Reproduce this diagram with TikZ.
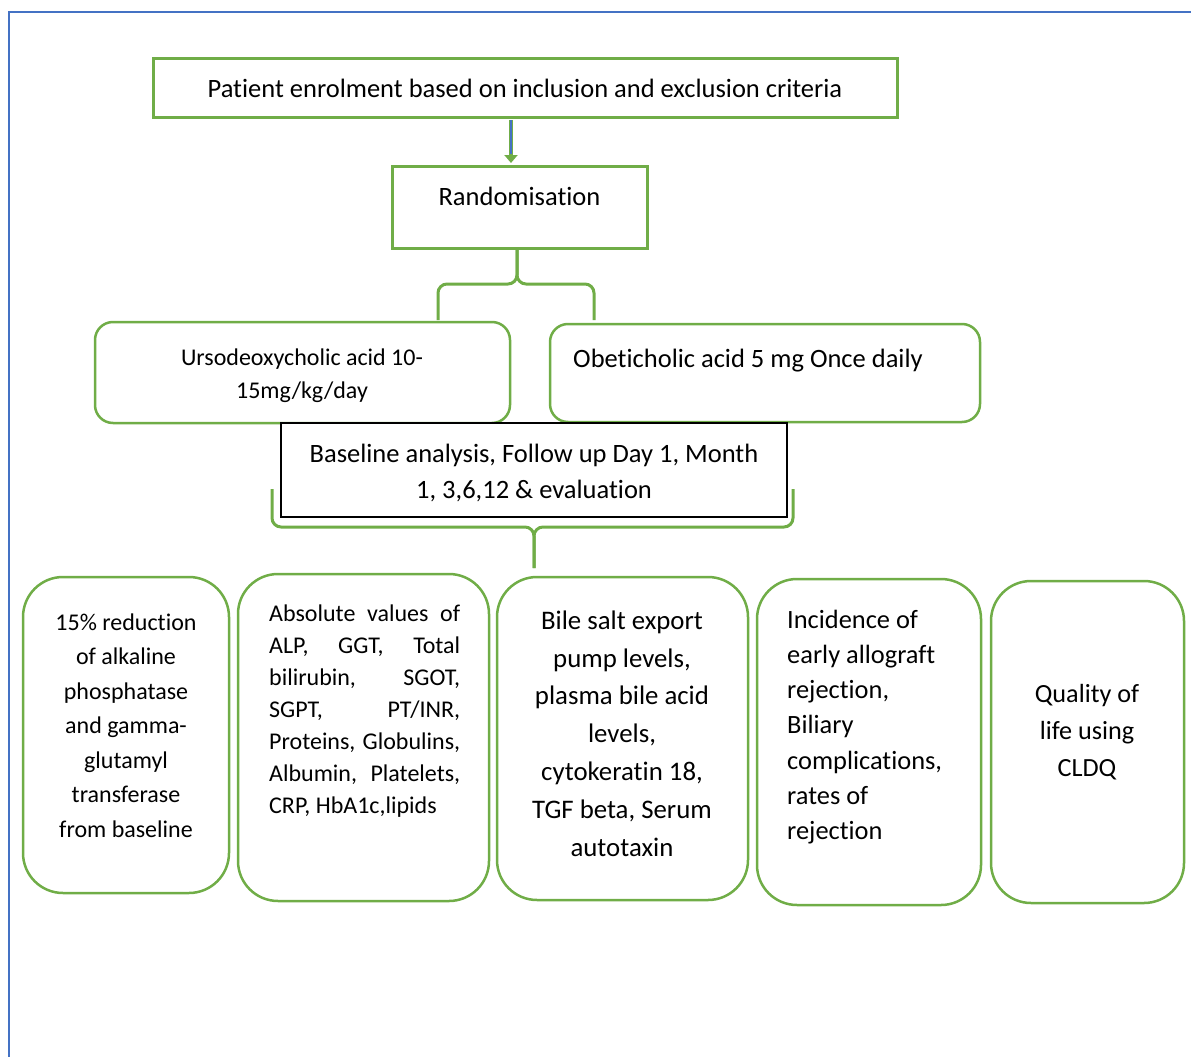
\documentclass[tikz,border=0pt]{standalone}
\usepackage{fontspec}
\setmainfont{Carlito}[Ligatures=NoCommon]
\usetikzlibrary{arrows.meta,calc}
\definecolor{ogreen}{HTML}{70AD47}
\definecolor{oblue}{HTML}{4472C4}
\begin{document}
\begin{tikzpicture}[x=1pt,y=-1pt,
  sqbox/.style={draw=ogreen, line width=3pt, inner sep=0pt, fill=white},
  rbox/.style={draw=ogreen, line width=2.5pt, inner sep=0pt, rounded corners=18pt, fill=white},
  bigbox/.style={draw=ogreen, line width=2.5pt, inner sep=0pt, rounded corners=40pt},
  blkbox/.style={draw=black, line width=1.5pt, inner sep=0pt, fill=white},
  lbl/.style={inner sep=0pt, text=black},
  brace/.style={draw=ogreen, line width=3pt, rounded corners=9pt},
  fs/.style 2 args={font=\fontsize{#1}{#2}\selectfont}
]
\useasboundingbox (0,0) rectangle (1191,1057);
% frame
\draw[oblue, line width=2pt] (9,1057) -- (9,12) -- (1191,12);

% top box
\node[sqbox, minimum width=744pt, minimum height=58pt, fs={26.5}{30}] (top) at (525,88) {Patient enrolment based on inclusion and exclusion criteria};
% randomisation
\node[sqbox, minimum width=255pt, minimum height=82pt] (rand) at (519.5,207) {};
\node[lbl, fs={26.5}{30}] (randt) at (519.5,196) {Randomisation};
% arrow
\draw[ogreen, line width=4pt, -{Triangle[length=8pt,width=13pt]}] ($(top.south)+(-14,1.5)$) -- ($(rand.north)+(-8.5,-1.5)$);
\draw[oblue, line width=1.6pt] ($(top.south)+(-14,1.5)$) -- ($(rand.north)+(-8.5,-11)$);

% upper brace
\coordinate (ubl) at (438,320);
\coordinate (ubr) at (594,320);
\coordinate (ubm) at (517,284);
\draw[brace] (ubl) -- (ubl |- ubm) -- (ubm) -- ($(rand.south)+(-2.5,0)$);
\draw[brace] (ubr) -- (ubr |- ubm) -- (ubm) -- ($(rand.south)+(-2.5,0)$);

% treatment boxes
\node[rbox, minimum width=415pt, minimum height=101pt] (urso) at (302.5,372.5) {};
\node[lbl, align=center, fs={24}{33}] (ursot) at (302,375.5) {Ursodeoxycholic acid 10-\\15mg/kg/day};
\node[rbox, minimum width=430pt, minimum height=98pt] (obet) at (765,373) {};
\node[lbl, anchor=west, fs={26.5}{30}] (obett) at (573,361) {Obeticholic acid 5 mg Once daily};

% baseline box
\node[blkbox, minimum width=506pt, minimum height=94pt] (base) at (534,470) {};
\node[lbl, align=center, fs={26.5}{36}] (baset) at (534,473) {Baseline analysis, Follow up Day 1, Month\\1, 3,6,12 \& evaluation};

% lower brace
\coordinate (lbl) at (272,489);
\coordinate (lbr) at (793,489);
\coordinate (lbm) at (534,527);
\coordinate (lbt) at (534,568);
\draw[brace] (lbl) -- (lbl |- lbm) -- (lbm) -- (lbt);
\draw[brace] (lbr) -- (lbr |- lbm) -- (lbm) -- (lbt);

% outcome boxes
\node[bigbox, minimum width=206pt, minimum height=316pt] (b1) at (126,735) {};
\node[lbl, align=center, fs={24}{34.5}] (b1t) at (126,725.5) {15\% reduction\\of alkaline\\phosphatase\\and gamma-\\glutamyl\\transferase\\from baseline};

\node[bigbox, minimum width=251pt, minimum height=327pt] (b2) at (363.5,737.5) {};
\node[lbl, anchor=west, text width=191pt, align=flush left, fs={24}{32}] (b2t) at (269,711.5) {Absolute\hfill values\hfill of\\ALP,\hfill GGT,\hfill Total\\bilirubin,\hfill SGOT,\\SGPT,\hfill PT/INR,\\Proteins,\hfill Globulins,\\Albumin,\hfill Platelets,\\CRP, HbA1c,lipids};

\node[bigbox, minimum width=251pt, minimum height=323pt] (b3) at (622.5,738.5) {};
\node[lbl, align=center, fs={26.8}{37.8}] (b3t) at (622,733.5) {Bile salt export\\pump levels,\\plasma bile acid\\levels,\\cytokeratin 18,\\TGF beta, Serum\\autotaxin};

\node[bigbox, minimum width=224pt, minimum height=326pt] (b4) at (869,742) {};
\node[lbl, anchor=west, text width=190pt, align=flush left, fs={26.4}{35.3}] (b4t) at (787,727) {Incidence of\\early allograft\\rejection,\\Biliary\\complications,\\rates of\\rejection};

\node[bigbox, minimum width=193pt, minimum height=322pt] (b5) at (1087.5,742) {};
\node[lbl, align=center, fs={26.2}{37}] (b5t) at (1087,732) {Quality of\\life using\\CLDQ};
\end{tikzpicture}
\end{document}
